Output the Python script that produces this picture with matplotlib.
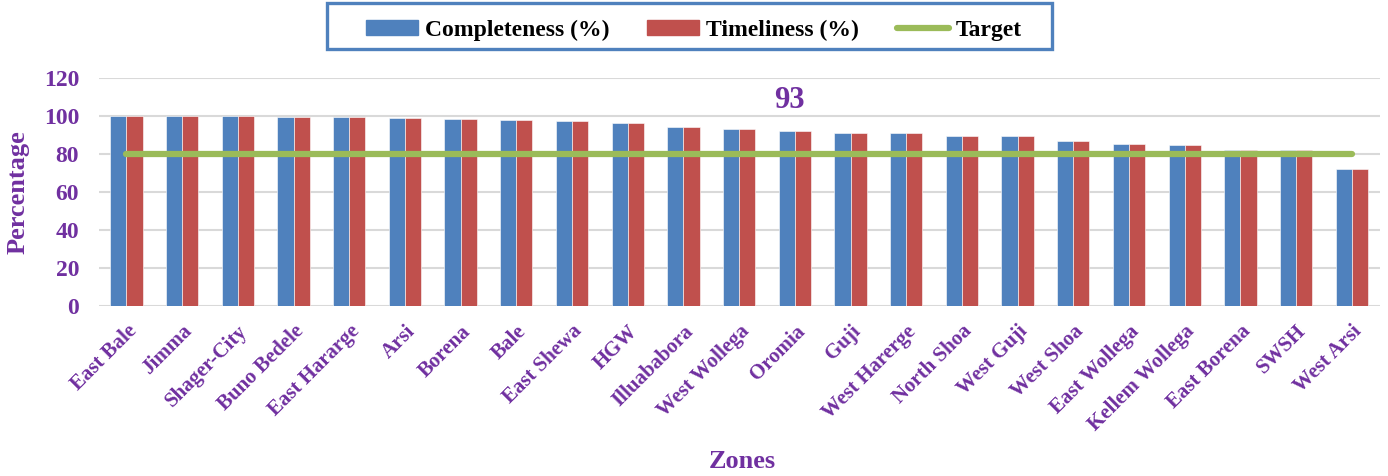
import matplotlib.pyplot as plt
import numpy as np
from matplotlib.lines import Line2D
from matplotlib.patches import Patch, Rectangle

zones = [
    "East Bale", "Jimma", "Shager-City", "Buno Bedele", "East Hararge", "Arsi",
    "Borena", "Bale", "East Shewa", "HGW", "Illuababora", "West Wollega",
    "Oromia", "Guji", "West Harerge", "North Shoa", "West Guji", "West Shoa",
    "East Wollega", "Kellem Wollega", "East Borena", "SWSH", "West Arsi",
]
completeness = [
    100, 100, 100, 99.7, 99.4, 98.8, 98.6, 97.9, 97.2, 96.1, 94.4, 93.2,
    92.3, 91.1, 91.1, 89.7, 89.7, 86.7, 85.3, 84.8, 82.1, 82.0, 72.3,
]
timeliness = [
    100, 100, 100, 99.7, 99.4, 98.8, 98.6, 97.9, 97.2, 96.1, 94.4, 93.2,
    92.3, 91.1, 91.1, 89.7, 89.7, 86.7, 85.3, 84.8, 82.1, 82.0, 72.3,
]
target = [80] * len(zones)
annotation_zone = "Oromia"
annotation_text = "93"

purple = "#7030a0"
blue = "#4f81bd"
red = "#c0504d"
green = "#9bbb59"

plt.rcParams["font.family"] = ["Liberation Serif", "DejaVu Serif"]
plt.rcParams["font.weight"] = "bold"

fig = plt.figure(figsize=(13.88, 4.76), dpi=100)
ax = fig.add_axes([0.071, 0.357, 0.923, 0.479])

x = np.arange(len(zones))
width = 0.29

ax.bar(x - width / 2, completeness, width, color=blue, edgecolor="white", linewidth=0.4, zorder=2)
ax.bar(x + width / 2, timeliness, width, color=red, edgecolor="white", linewidth=0.4, zorder=2)
ax.plot(x, target, color=green, linewidth=4.5, solid_capstyle="round", zorder=3)

ax.text(
    zones.index(annotation_zone) - 0.1,
    108,
    annotation_text,
    color=purple,
    fontsize=22,
    fontweight="bold",
    ha="center",
    va="center",
)

ax.set_xlim(-0.5, len(zones) - 0.5)
ax.set_ylim(0, 120)
ax.set_yticks(range(0, 121, 20))
ax.grid(axis="y", color="#d9d9d9", linewidth=1.5, zorder=0)
ax.set_axisbelow(True)
for spine in ax.spines.values():
    spine.set_visible(False)
ax.tick_params(axis="both", length=0, colors=purple)
ax.tick_params(axis="y", pad=14, labelsize=17)
ax.tick_params(axis="x", pad=11, labelsize=15)

ax.set_xticks(x)
ax.set_xticklabels(zones, rotation=45, ha="right", rotation_mode="anchor", fontweight="bold")
for label in ax.get_yticklabels():
    label.set_fontweight("bold")

ax.set_ylabel("Percentage", color=purple, fontsize=19, fontweight="bold", labelpad=10)
fig.text(0.535, 0.03, "Zones", color=purple, fontsize=19, fontweight="bold", ha="center", va="center")

# legend frame drawn by hand so it can be wider than the entries
fig.patches.append(
    Rectangle(
        (327 / 1388, 1 - 49 / 476),
        725 / 1388,
        46 / 476,
        transform=fig.transFigure,
        facecolor="white",
        edgecolor=blue,
        linewidth=2.4,
        zorder=1,
    )
)

handles = [
    Patch(facecolor=blue, edgecolor=blue),
    Patch(facecolor=red, edgecolor=red),
    Line2D([0], [0], color=green, linewidth=4.5, solid_capstyle="round"),
]
legend = fig.legend(
    handles,
    ["Completeness (%)", "Timeliness (%)", "Target"],
    loc="upper center",
    bbox_to_anchor=(0.5, 1.006),
    ncol=3,
    fontsize=17,
    frameon=False,
    handlelength=2.2,
    handleheight=0.55,
    columnspacing=1.6,
    handletextpad=0.3,
    borderpad=0.45,
)
legend.set_zorder(2)

fig.savefig("out.png", dpi=100)
